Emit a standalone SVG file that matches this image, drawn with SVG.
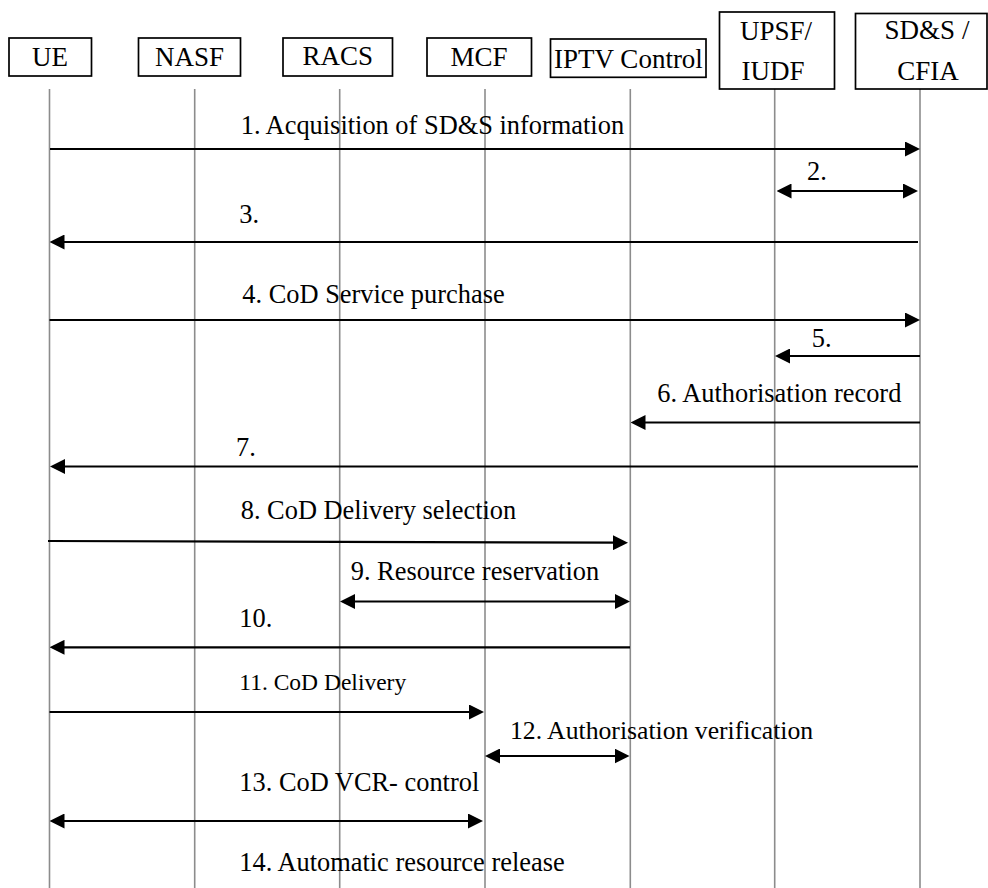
<svg xmlns="http://www.w3.org/2000/svg" width="988" height="888" viewBox="0 0 988 888">
<style>
.box{fill:#fff;stroke:#000;stroke-width:1.7}
.bt{font-family:"Liberation Serif","Times New Roman",serif;font-size:27px;fill:#000;text-anchor:middle}
.life{stroke:#8c8c8c;stroke-width:1.6;fill:none}
.msg{stroke:#000;stroke-width:2.2;fill:none}
.one{marker-end:url(#ah)}
.two{marker-start:url(#ah);marker-end:url(#ah)}
.lb{font-family:"Liberation Serif","Times New Roman",serif;font-size:26.4px;fill:#000}
</style>
<defs>
<marker id="ah" viewBox="0 0 15 15" refX="7" refY="7.5" markerWidth="15" markerHeight="15" markerUnits="userSpaceOnUse" orient="auto-start-reverse">
<path d="M0,0 L15,7.5 L0,15 z" fill="#000"/>
</marker>
</defs>
<rect width="988" height="888" fill="#fff"/>
<g id="lifelines">
<line class="life" x1="49.5" y1="89" x2="49.5" y2="888"/>
<line class="life" x1="194.7" y1="89" x2="194.7" y2="888"/>
<line class="life" x1="339.7" y1="89" x2="339.7" y2="888"/>
<line class="life" x1="485" y1="89" x2="485" y2="888"/>
<line class="life" x1="630.3" y1="89" x2="630.3" y2="888"/>
<line class="life" x1="774.7" y1="89" x2="774.7" y2="888"/>
<line class="life" x1="920" y1="89" x2="920" y2="888"/>
</g>
<g id="ue"><rect class="box" x="9" y="38" width="82.5" height="38"/><text class="bt" x="50" y="66">UE</text></g>
<g id="nasf"><rect class="box" x="138.5" y="38" width="102" height="38"/><text class="bt" x="189.5" y="66">NASF</text></g>
<g id="racs"><rect class="box" x="283" y="38" width="109.5" height="38"/><text class="bt" x="337.7" y="65">RACS</text></g>
<g id="mcf"><rect class="box" x="427" y="38" width="104.5" height="38"/><text class="bt" x="479" y="66">MCF</text></g>
<g id="iptv"><rect class="box" x="550.5" y="39" width="155.5" height="38.3"/><text class="bt" x="628.5" y="68">IPTV Control</text></g>
<g id="upsf"><rect class="box" x="719.5" y="12" width="115" height="77"/><text class="bt" x="776" y="40">UPSF/</text><text class="bt" x="773" y="80">IUDF</text></g>
<g id="sds"><rect class="box" x="855.5" y="13.5" width="131.5" height="75.5"/><text class="bt" x="927" y="39">SD&amp;S /</text><text class="bt" x="928" y="80">CFIA</text></g>
<g id="connectors">
<line class="msg one" x1="50" y1="149" x2="912" y2="149"/>
<line class="msg two" x1="784.5" y1="191" x2="910" y2="191"/>
<line class="msg one" x1="918" y1="242" x2="57.5" y2="242"/>
<line class="msg one" x1="49.5" y1="320" x2="912" y2="320"/>
<line class="msg one" x1="920" y1="356" x2="783" y2="356"/>
<line class="msg one" x1="920" y1="422.5" x2="638.5" y2="422.5"/>
<line class="msg one" x1="918" y1="466.5" x2="58" y2="466.5"/>
<line class="msg one" x1="48" y1="541" x2="620" y2="542.7"/>
<line class="msg two" x1="348" y1="601.5" x2="622" y2="601.5"/>
<line class="msg one" x1="630" y1="647.3" x2="57.5" y2="647.3"/>
<line class="msg one" x1="49.5" y1="712" x2="476" y2="712"/>
<line class="msg two" x1="493" y1="756" x2="621.5" y2="756"/>
<line class="msg two" x1="57.5" y1="821" x2="475" y2="821"/>
</g>
<g id="labels">
<text class="lb" x="240.7" y="134">1. Acquisition of SD&amp;S information</text>
<text class="lb" x="807" y="180">2.</text>
<text class="lb" x="239.3" y="222.7">3.</text>
<text class="lb" x="242.3" y="302.7">4. CoD Service purchase</text>
<text class="lb" x="811.7" y="347.3">5.</text>
<text class="lb" x="657.3" y="401.7">6. Authorisation record</text>
<text class="lb" x="236" y="455.7">7.</text>
<text class="lb" x="240.7" y="519.3">8. CoD Delivery selection</text>
<text class="lb" x="350.7" y="580">9. Resource reservation</text>
<text class="lb" x="239.3" y="626.7">10.</text>
<text class="lb" x="239.3" y="690" style="font-size:23.5px">11. CoD Delivery</text>
<text class="lb" x="510" y="739.3" style="font-size:25.7px">12. Authorisation verification</text>
<text class="lb" x="239.3" y="791">13. CoD VCR- control</text>
<text class="lb" x="239.3" y="870.7">14. Automatic resource release</text>
</g>
</svg>
